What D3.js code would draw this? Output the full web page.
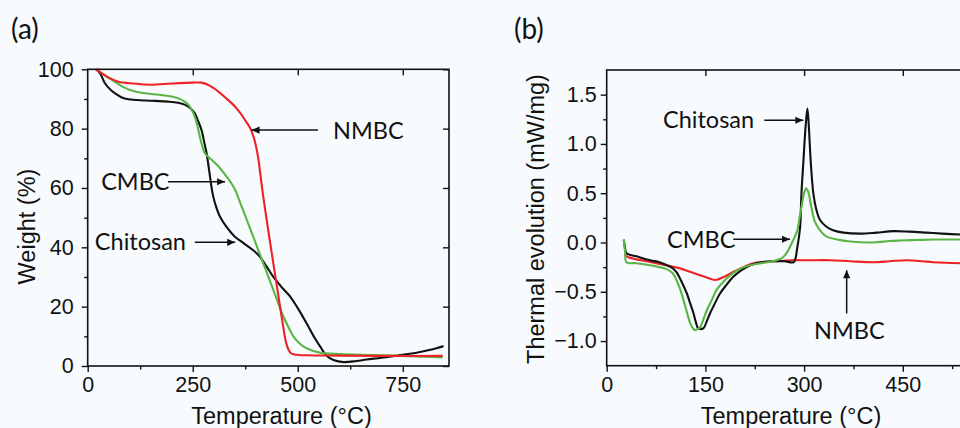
<!DOCTYPE html>
<html>
<head>
<meta charset="utf-8">
<script src="https://cdnjs.cloudflare.com/ajax/libs/d3/7.8.5/d3.min.js"></script>
<style>
body { margin:0; background:#f8fbfd; }
svg { display:block; }
.tick text { font-family:"Liberation Sans", Arial, sans-serif; font-size:21.5px; fill:#111; }
.title { font-family:"Liberation Sans", Arial, sans-serif; font-size:23.5px; fill:#111; }
.note { font-family:Lato, "Open Sans", sans-serif; font-size:23.5px; fill:#111; }
</style>
</head>
<body>
<script>
// tick values
var tgaTicksX = [0, 250, 500, 750];
var tgaMinorX = [125, 375, 625];
var tgaTicksY = [0, 20, 40, 60, 80, 100];
var tgaMinorY = [10, 30, 50, 70, 90];
var dscTicksX = [0, 150, 300, 450];
var dscMinorX = [75, 225, 375, 525];
var dscTicksY = [-1.0, -0.5, 0.0, 0.5, 1.0, 1.5];
var dscMinorY = [-0.75, -0.25, 0.25, 0.75, 1.25];

// (a) weight (%) vs temperature
var tgaChitosan = [[20,100],[30,98.5],[41,95.3],[55,93],[65,91.9],[80,90.6],[97,89.9],[140,89.5],[192,89.1],[215,88.7],[232,88],[245,86.8],[255,85.2],[263,82.5],[271,79.5],[278,75],[283,71.7],[287,68],[291,64],[295,60],[299,57],[305,54],[315,50.3],[330,47],[351,43.5],[370,41.5],[394,39],[410,36.8],[426,33.5],[442,30],[462,26.5],[482,23.4],[500,19.5],[521,14.4],[540,9.5],[555,6.2],[568,3.5],[585,2],[609,1.3],[640,1.7],[664,2.2],[700,2.8],[744,3.7],[780,4.4],[807,5.2],[830,6],[847,6.7]];
var tgaCMBC = [[20,100],[35,98.5],[50,97],[65,95.8],[85,94],[113,92.5],[150,91.7],[176,91.3],[200,90.8],[216,90.2],[230,89.2],[240,88],[248,86.2],[255,84],[261,81],[267,77.3],[273,74],[279,71.7],[287,70.5],[295,69.5],[310,67.5],[327,64.5],[340,62],[351,59.3],[363,55],[374,51],[394,43.6],[418,34.6],[442,25.6],[466,16.6],[480,12.5],[490,9.9],[505,7.5],[521,6.0],[553,4.5],[601,4.0],[680,3.7],[744,3.4],[800,3.1],[845,2.9]];
var tgaNMBC = [[20,100],[35,98.5],[50,97.2],[73,95.8],[110,95.2],[150,94.8],[200,95.2],[250,95.5],[271,95.5],[290,94.5],[311,92.5],[330,90.2],[351,87.4],[363,85.3],[375,82.8],[385,80.6],[393,78],[400,74.5],[406,70],[412,63.5],[418,57],[430,45.5],[442,34.5],[454,23.5],[464,14.5],[472,8],[478,5.5],[484,4.3],[492,3.9],[521,3.6],[600,3.5],[700,3.4],[845,3.4]];

// (b) thermal evolution (mW/mg) vs temperature
var dscChitosan = [[26,0.03],[28,-0.06],[30,-0.11],[45,-0.14],[66,-0.18],[80,-0.2],[91,-0.23],[100,-0.26],[106,-0.3],[114,-0.4],[122,-0.52],[127,-0.62],[132,-0.72],[136,-0.82],[139,-0.87],[147,-0.87],[152,-0.8],[157,-0.72],[165,-0.61],[172,-0.52],[182,-0.43],[192,-0.35],[205,-0.28],[218,-0.23],[235,-0.2],[253,-0.19],[270,-0.19],[284,-0.2],[287,-0.16],[289,-0.08],[292,0.05],[294,0.16],[296,0.5],[299,0.83],[302,1.15],[305,1.36],[307,1.2],[310,0.83],[314,0.5],[318,0.35],[324,0.23],[334,0.16],[344,0.125],[360,0.1],[385,0.09],[410,0.1],[436,0.115],[460,0.11],[486,0.1],[510,0.09],[540,0.08],[560,0.075]];
var dscCMBC = [[26,0.03],[28,-0.1],[30,-0.2],[45,-0.21],[66,-0.23],[80,-0.25],[91,-0.27],[100,-0.31],[106,-0.38],[112,-0.48],[117,-0.59],[122,-0.71],[127,-0.82],[131,-0.87],[134,-0.89],[138,-0.88],[142,-0.86],[147,-0.78],[152,-0.69],[160,-0.58],[167,-0.48],[180,-0.38],[192,-0.31],[205,-0.26],[218,-0.23],[235,-0.21],[253,-0.19],[262,-0.17],[268,-0.15],[275,-0.09],[281,-0.01],[286,0.06],[290,0.13],[293,0.25],[296,0.36],[300,0.5],[303,0.55],[306,0.52],[311,0.36],[316,0.22],[324,0.125],[334,0.06],[350,0.03],[370,0.01],[405,0.0],[430,0.015],[446,0.02],[470,0.025],[496,0.03],[537,0.03],[560,0.03]];
var dscNMBC = [[27,-0.12],[33,-0.15],[60,-0.19],[91,-0.23],[110,-0.26],[132,-0.31],[150,-0.35],[165,-0.38],[178,-0.35],[192,-0.3],[208,-0.25],[223,-0.21],[240,-0.2],[258,-0.19],[280,-0.18],[304,-0.18],[340,-0.18],[370,-0.19],[405,-0.2],[430,-0.19],[456,-0.18],[480,-0.19],[496,-0.2],[537,-0.21],[560,-0.21]];

// labels with arrows: text at [x,y], arrow from..to, in data units
var tgaNotes = [
	{text:"NMBC", at:[584,76.5], from:[548,79.5], to:[390,79.5]},
	{text:"CMBC", at:[32,59.3], from:[191,62.1], to:[327,62.1]},
	{text:"Chitosan", at:[17,39.1], from:[255,41.7], to:[351,41.7]}
];
var dscNotes = [
	{text:"Chitosan", at:[85.6,1.162], from:[239.5,1.24], to:[298.8,1.24]},
	{text:"CMBC", at:[91.6,-0.055], from:[192.4,0.033], to:[278.6,0.033]},
	{text:"NMBC", at:[315,-0.984], from:[364.7,-0.72], to:[364.7,-0.281]}
];

var colors = {chitosan:"#111111", cmbc:"#5ab547", nmbc:"#ec2227"};

var canvas = d3.select("body").append("svg")
	.attr("width", 960)
	.attr("height", 428);

canvas.append("defs").append("marker")
	.attr("id", "head")
	.attr("viewBox", "0 0 10 10")
	.attr("refX", 10)
	.attr("refY", 5)
	.attr("markerUnits", "userSpaceOnUse")
	.attr("markerWidth", 10)
	.attr("markerHeight", 8)
	.attr("orient", "auto")
	.append("path")
	.attr("d", "M0,0.5L10,5L0,9.5Z")
	.attr("fill", "#111");

function drawPanel(p) {
	var g = canvas.append("g");
	var x = p.x, y = p.y;
	var x0 = x.range()[0], x1 = x.range()[1];
	var y0 = y.range()[0], y1 = y.range()[1];

	g.append("g").attr("transform", "translate(0," + y0 + ")")
		.call(d3.axisBottom(x).tickValues(p.ticksX).tickSize(6).tickPadding(5).tickSizeOuter(0));
	g.append("g").attr("transform", "translate(0," + y0 + ")")
		.call(d3.axisBottom(x).tickValues(p.minorX).tickSize(3.5).tickFormat("").tickSizeOuter(0));
	g.append("g").attr("transform", "translate(0," + y1 + ")")
		.call(d3.axisTop(x).tickValues(p.ticksX.slice(1)).tickSize(-6).tickFormat("").tickSizeOuter(0));

	g.append("g").attr("transform", "translate(" + x0 + ",0)")
		.call(d3.axisLeft(y).tickValues(p.ticksY).tickSize(6).tickPadding(p.padY).tickSizeOuter(0).tickFormat(p.fmt));
	g.append("g").attr("transform", "translate(" + x0 + ",0)")
		.call(d3.axisLeft(y).tickValues(p.minorY).tickSize(3.5).tickFormat("").tickSizeOuter(0));
	if (p.right) {
		g.append("g").attr("transform", "translate(" + x1 + ",0)")
			.call(d3.axisRight(y).tickValues(p.ticksY).tickSize(-6).tickFormat("").tickSizeOuter(0));
	}

	g.selectAll(".domain").remove();
	g.selectAll(".tick line").attr("stroke", "#111").attr("stroke-width", 1.4);

	var line = d3.line()
		.x(function(d) { return x(d[0]); })
		.y(function(d) { return y(d[1]); })
		.curve(d3.curveCatmullRom.alpha(0.5));

	p.series.forEach(function(s) {
		g.append("path")
			.datum(s.data)
			.attr("d", line)
			.attr("fill", "none")
			.attr("stroke", s.color)
			.attr("stroke-width", 2.1)
			.attr("stroke-linejoin", "round");
	});

	g.append("rect")
		.attr("x", x0).attr("y", y1)
		.attr("width", x1 - x0).attr("height", y0 - y1)
		.attr("fill", "none")
		.attr("stroke", "#111")
		.attr("stroke-width", 1.6);

	p.notes.forEach(function(n) {
		g.append("text")
			.attr("class", "note")
			.attr("x", x(n.at[0]))
			.attr("y", y(n.at[1]))
			.text(n.text);
		g.append("line")
			.attr("x1", x(n.from[0])).attr("y1", y(n.from[1]))
			.attr("x2", x(n.to[0])).attr("y2", y(n.to[1]))
			.attr("stroke", "#111")
			.attr("stroke-width", 1.5)
			.attr("marker-end", "url(#head)");
	});

	g.append("text")
		.attr("class", "title")
		.attr("x", p.titleX)
		.attr("y", 424)
		.attr("text-anchor", "middle")
		.text("Temperature (°C)");
	g.append("text")
		.attr("class", "title")
		.attr("transform", "translate(" + p.yTitleX + "," + p.yTitleY + ") rotate(-90)")
		.attr("text-anchor", "middle")
		.text(p.yTitle);

	g.append("text")
		.attr("class", "note")
		.style("font-size", "28px")
		.attr("x", p.tagX)
		.attr("y", 39)
		.text(p.tag);
}

drawPanel({
	x: d3.scaleLinear().domain([0, 860]).range([87.7, 449]),
	y: d3.scaleLinear().domain([0, 100]).range([366, 69.3]),
	ticksX: tgaTicksX, minorX: tgaMinorX,
	ticksY: tgaTicksY, minorY: tgaMinorY,
	padY: 8, right: true,
	fmt: function(d) { return d; },
	series: [
		{data: tgaChitosan, color: colors.chitosan},
		{data: tgaCMBC, color: colors.cmbc},
		{data: tgaNMBC, color: colors.nmbc}
	],
	notes: tgaNotes,
	titleX: 281.5, yTitleX: 35, yTitleY: 226.5, yTitle: "Weight (%)",
	tag: "(a)", tagX: 11
});

drawPanel({
	x: d3.scaleLinear().domain([0, 600]).range([606.7, 1001.5]),
	y: d3.scaleLinear().domain([-1.25, 1.75]).range([365.7, 70]),
	ticksX: dscTicksX, minorX: dscMinorX,
	ticksY: dscTicksY, minorY: dscMinorY,
	padY: 4, right: false,
	fmt: d3.format(".1f"),
	series: [
		{data: dscNMBC, color: colors.nmbc},
		{data: dscChitosan, color: colors.chitosan},
		{data: dscCMBC, color: colors.cmbc}
	],
	notes: dscNotes,
	titleX: 791, yTitleX: 543.5, yTitleY: 219, yTitle: "Thermal evolution (mW/mg)",
	tag: "(b)", tagX: 514
});
</script>
</body>
</html>
